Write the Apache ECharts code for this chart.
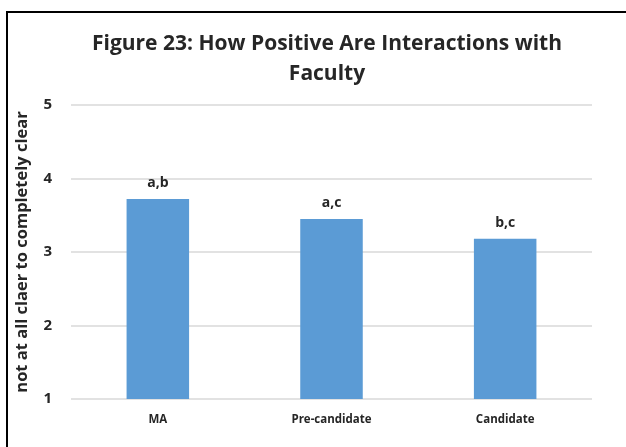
<!DOCTYPE html>
<html>
<head>
<meta charset="utf-8">
<script src="https://cdn.jsdelivr.net/npm/echarts@6/dist/echarts.min.js"></script>
<style>
  html, body { margin: 0; padding: 0; background: #fff; }
  #frame {
    position: absolute; left: 6px; top: 11px; width: 640px; height: 460px;
    border-left: 2px solid #000; border-top: 2px solid #000;
  }
  #chart { position: absolute; left: 0; top: 0; width: 626px; height: 447px; }
</style>
</head>
<body>
<div id="frame"></div>
<div id="chart"></div>
<script>
// data
const categories = ['MA', 'Pre-candidate', 'Candidate']
const values = [3.72, 3.45, 3.18]
const sigLabels = ['a,b', 'a,c', 'b,c']
const yTicks = [1, 2, 3, 4, 5]

const font = '"Open Sans", "DejaVu Sans", sans-serif'

const chart = echarts.init(document.getElementById('chart'))
chart.setOption({
  animation: false,
  title: {
    text: 'Figure 23: How Positive Are Interactions with\nFaculty',
    left: 322,
    top: 24,
    textAlign: 'center',
    textStyle: {
      fontFamily: font, fontSize: 21, fontWeight: 'bold', color: '#262626', lineHeight: 30
    }
  },
  grid: { left: 71, right: 34, top: 105, bottom: 48 },
  xAxis: {
    type: 'category',
    data: categories,
    axisLine: { show: false },
    axisTick: { show: false },
    axisLabel: { fontFamily: font, fontSize: 11.5, fontWeight: 'bold', color: '#262626', margin: 15 }
  },
  yAxis: {
    type: 'value',
    min: yTicks[0],
    max: yTicks[yTicks.length - 1],
    interval: 1,
    name: 'not at all claer to completely clear',
    nameLocation: 'middle',
    nameGap: 40,
    nameTextStyle: { fontFamily: font, fontSize: 16.5, fontWeight: 'bold', color: '#262626' },
    axisLabel: { fontFamily: font, fontSize: 15, fontWeight: 'bold', color: '#262626', margin: 19 },
    splitLine: { lineStyle: { color: '#d9d9d9', width: 1.5 } }
  },
  series: [{
    type: 'bar',
    data: values,
    barWidth: '36%',
    itemStyle: { color: '#5b9bd5' },
    label: {
      show: true,
      position: 'top',
      distance: 9,
      formatter: p => sigLabels[p.dataIndex],
      fontFamily: font, fontSize: 14, fontWeight: 'bold', color: '#262626'
    }
  }]
})
</script>
</body>
</html>
